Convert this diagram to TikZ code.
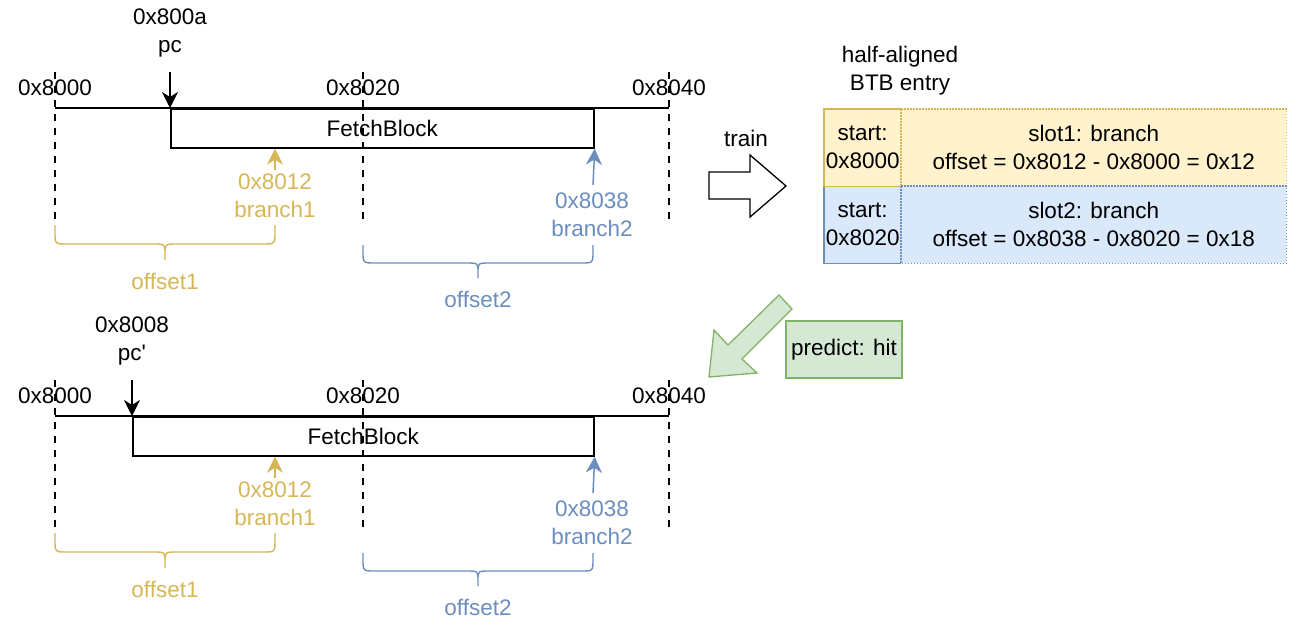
\documentclass[tikz,border=0pt]{standalone}
\usepackage{fontspec}
\setmainfont{Liberation Sans}
\usetikzlibrary{arrows.meta}
\definecolor{yel}{HTML}{D6B656}
\definecolor{yelfill}{HTML}{FFF2CC}
\definecolor{blu}{HTML}{6C8EBF}
\definecolor{blufill}{HTML}{DAE8FC}
\definecolor{grn}{HTML}{82B366}
\definecolor{grnfill}{HTML}{D5E8D4}
\tikzset{
  lbl/.style={font=\fontsize{22.5}{28}\selectfont, align=center, inner sep=0pt},
  axisline/.style={line width=1.7pt},
  guide/.style={line width=1.4pt, dash pattern=on 7pt off 7pt},
  ptr/.style={line width=1.6pt, -{Stealth[length=16pt,width=16pt,inset=5pt]}},
  cptr/.style={line width=1.5pt, -{Stealth[length=16pt,width=16pt,inset=5pt]}},
  bracestyle/.style={line width=1.4pt},
  block/.style={draw, line width=1.7pt, minimum height=39pt, inner sep=0pt, anchor=north west},
  cell/.style={lbl, minimum height=77pt, anchor=north west},
  dotb/.style={dash pattern=on 1.5pt off 1.5pt, line width=1.2pt},
  solb/.style={line width=1.5pt}
}
\begin{document}
\begin{tikzpicture}[x=1pt,y=-1pt]
\useasboundingbox (0,0) rectangle (1291,618);

\foreach \dy/\pcx/\addr/\pcl/\t in {0/170/0x800a/pc/a, 308/132/0x8008/{pc\textquotesingle}/b}{
\begin{scope}[yshift=-\dy pt]
  % labels
  \node[lbl] (pclabel-\t) at (\pcx,33) {\addr\\\pcl};
  \coordinate (pcstart-\t) at (\pcx,72);
  \node[lbl] (l0-\t) at (55,88) {0x8000};
  \node[lbl] (l2-\t) at (363,88) {0x8020};
  \node[lbl] (l4-\t) at (669,88) {0x8040};
  % guides
  \foreach \gx/\g in {55/0,363/2,669/4}{
    \coordinate (gt\g-\t) at (\gx,72);
    \coordinate (gb\g-\t) at (\gx,223);
    \draw[guide] (gt\g-\t) -- (gb\g-\t);
  }
  % fetch block
  \node[block, minimum width={(593-\pcx)*1pt}] (fb-\t) at (\pcx,108) {};
  \node[lbl] (fbtext-\t) at (fb-\t.center) {FetchBlock};
  \coordinate (ax0-\t) at (55,108);
  \coordinate (ax4-\t) at (669,108);
  \draw[axisline] (ax0-\t) -- (ax4-\t);
  \draw[ptr] (pcstart-\t) -- (fb-\t.north west);
  % branches
  \node[lbl, text=yel] (br1-\t) at (275,196) {0x8012\\branch1};
  \node[lbl, text=blu] (br2-\t) at (592,214.5) {0x8038\\branch2};
  \coordinate (b1s-\t) at (275,170);
  \coordinate (b2s-\t) at (593,185);
  \draw[cptr, yel] (b1s-\t) -- (b1s-\t |- fb-\t.south);
  \draw[cptr, blu] (b2s-\t) -- (fb-\t.south east);
  % braces
  \draw[bracestyle, yel] (55,225) -- (55,232) .. controls (55,244) .. (67,244) -- (153,244)
     .. controls (165,244) .. (165,254) -- (165,260)
     (165,254) .. controls (165,244) .. (177,244) -- (263,244) .. controls (275,244) .. (275,232) -- (275,225);
  \node[lbl, text=yel] (off1-\t) at (165,281) {offset1};
  \draw[bracestyle, blu] (363,245) -- (363,251) .. controls (363,263) .. (375,263) -- (466,263)
     .. controls (478,263) .. (478,272) -- (478,278)
     (478,272) .. controls (478,263) .. (490,263) -- (581,263) .. controls (593,263) .. (593,251) -- (593,245);
  \node[lbl, text=blu] (off2-\t) at (478,299) {offset2};
\end{scope}
}

% right side
\node[lbl] (btbtitle) at (900,71) {half-aligned\\BTB entry};
\node[lbl] (train) at (746,138) {train};
\draw[line width=1.3pt, fill=white] (709,172) -- (750,172) -- (750,155) -- (786,186) -- (750,217) -- (750,199) -- (709,199) -- cycle;

\node[cell, fill=yelfill, minimum width=77pt] (c11) at (824,109) {start:\\0x8000};
\node[cell, fill=blufill, minimum width=77pt] (c21) at (824,186) {start:\\0x8020};
\node[cell, fill=yelfill, minimum width=385pt] (c12) at (901,109) {slot1: branch\\offset = 0x8012 - 0x8000 = 0x12};
\node[cell, fill=blufill, minimum width=385pt] (c22) at (901,186) {slot2: branch\\offset = 0x8038 - 0x8020 = 0x18};
\draw[dotb, yel] (c12.north west) rectangle (c12.south east);
\draw[dotb, blu] (c22.north west) rectangle (c22.south east);
\draw[solb, blu] (c21.north west) -- (c21.south west) -- (c21.south east);
\draw[solb, yel] (c11.north east) -- (c11.north west) -- (c11.south west) -- (c11.south east);

% predict
\draw[line width=1.3pt, draw=grn, fill=grnfill] (779,295) -- (792,309) -- (742,359) -- (757,373) -- (709,377) -- (714,330) -- (728,345) -- cycle;
\node[lbl, draw=grn, fill=grnfill, line width=1.3pt, minimum width=116pt, minimum height=57pt] (predict) at (844,349.5) {predict: hit};
\end{tikzpicture}
\end{document}
